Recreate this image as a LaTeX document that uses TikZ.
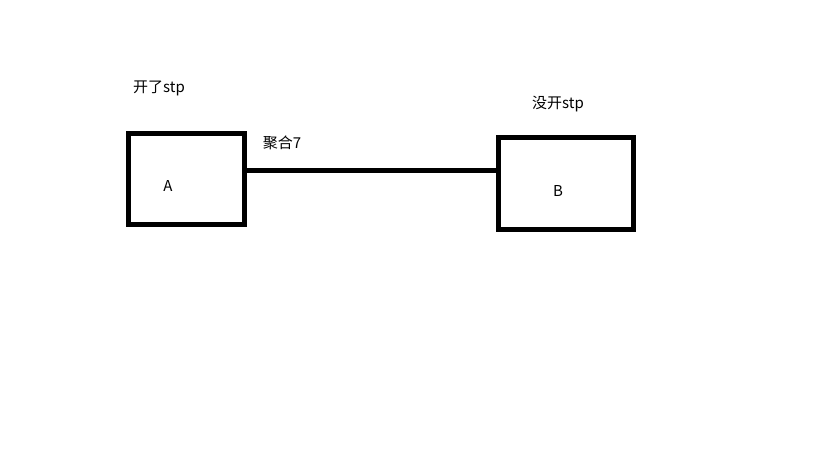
\documentclass[tikz,border=0pt]{standalone}
\usepackage{fontspec}
\setmainfont{Noto Sans CJK SC}
\usepackage{tikz}

\tikzset{
	switchbox/.style={draw, line width=5pt, rectangle, inner sep=0pt},
	tag/.style={font=\fontsize{15}{17}\selectfont, inner sep=0pt}
}

\begin{document}
\begin{tikzpicture}[x=1pt, y=-1pt]

	\useasboundingbox (0,0) rectangle (819,460);

	\node[switchbox, minimum width=116pt, minimum height=91pt] (boxa) at (186.5,179) {};
	\node[switchbox, minimum width=135pt, minimum height=92pt] (boxb) at (566,183.5) {};
	\coordinate (linky) at (0,170.5);
	\draw[line width=5pt] (boxa.east |- linky) -- (boxb.west |- linky);

	\node[tag] (namea) at (168,186) {A};
	\node[tag] (nameb) at (558,191) {B};
	\node[tag] (stpa) at (159,88.5) {开了stp};
	\node[tag] (stpb) at (558,104) {没开stp};
	\node[tag] (agg) at (282,143) {聚合7};


\end{tikzpicture}
\end{document}
